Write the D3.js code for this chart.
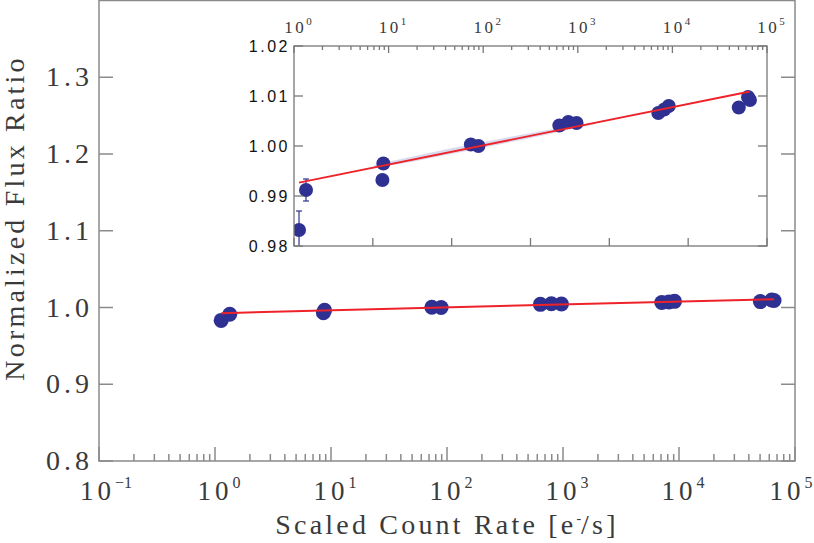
<!DOCTYPE html>
<html>
<head>
<meta charset="utf-8">
<script src="https://cdn.jsdelivr.net/npm/d3@7"></script>
<style>
  body { margin: 0; background: #fff; }
  svg { display: block; }
  .big { font-family: "Liberation Serif", serif; fill: #3a3a3a; }
  .small { font-family: "Liberation Sans", Arial, sans-serif; fill: #111; }
</style>
</head>
<body>
<svg id="chart" width="814" height="543"></svg>
<script>
// measured points (count rate, normalized flux ratio, error)
const rate  = [1.13, 1.34, 8.6, 8.8, 74, 89, 638, 794, 970, 7100, 8200, 9150, 50300, 63000, 66000];
const ratio = [0.9832, 0.9912, 0.9932, 0.9965, 1.0003, 1.0000, 1.0041, 1.0048, 1.0046, 1.0066, 1.0073, 1.0080, 1.0077, 1.0098, 1.0092];
const err   = [0.0038, 0.0022, 0, 0, 0, 0, 0, 0, 0, 0, 0, 0, 0, 0, 0];

// linear fit end points
const fitX = [1.13, 66000];
const fitY = [0.99267, 1.0109];

// faint fit uncertainty band (inset)
const bandX  = [7, 20, 60, 200, 600, 1500];
const bandLo = [0.9955, 0.9970, 0.9988, 1.0008, 1.0027, 1.0043];
const bandHi = [0.9962, 0.9981, 1.0000, 1.0019, 1.0035, 1.0047];

// tick labels
const xDecadesMain = [0.1, 1, 10, 100, 1000, 10000, 100000];
const xExpMain = ["\u22121", "0", "1", "2", "3", "4", "5"];
const yTicksMain = [0.8, 0.9, 1.0, 1.1, 1.2, 1.3];
const xDecadesInset = [1, 10, 100, 1000, 10000, 100000];
const xExpInset = ["0", "1", "2", "3", "4", "5"];
const yTicksInset = [0.98, 0.99, 1.00, 1.01, 1.02];

const svg = d3.select("#chart");
const blue = "#2e3192", red = "#ee2229";

// ---------- main panel ----------
const x = d3.scaleLog().domain([0.1, 1e5]).range([99, 795]);
const y = d3.scaleLinear().domain([0.8, 1.4]).range([461, 0.5]);

function minorTicks(lo, hi) {
  const out = [];
  for (let d = lo; d < hi; d *= 10)
    for (let k = 2; k <= 9; k++) out.push(d * k);
  return out;
}

const frame = svg.append("g").attr("stroke", "#8a8a8a").attr("stroke-width", 1.5).attr("fill", "none");
frame.append("rect").attr("x", x.range()[0]).attr("y", y.range()[1])
  .attr("width", x.range()[1] - x.range()[0]).attr("height", y.range()[0] - y.range()[1]);

// bottom ticks
frame.selectAll(".xmaj").data(xDecadesMain).enter().append("line")
  .attr("x1", d => x(d)).attr("x2", d => x(d)).attr("y1", 461).attr("y2", 447);
frame.selectAll(".xmin").data(minorTicks(0.1, 1e5)).enter().append("line")
  .attr("x1", d => x(d)).attr("x2", d => x(d)).attr("y1", 461).attr("y2", 454);
// left / right ticks
frame.selectAll(".yl").data(yTicksMain).enter().append("line")
  .attr("x1", 99).attr("x2", 113).attr("y1", d => y(d)).attr("y2", d => y(d));
frame.selectAll(".yr").data(yTicksMain).enter().append("line")
  .attr("x1", 795).attr("x2", 781).attr("y1", d => y(d)).attr("y2", d => y(d));

// y labels
svg.selectAll(".ylab").data(yTicksMain).enter().append("text")
  .attr("class", "big").attr("x", 93).attr("y", d => y(d) + 9)
  .attr("text-anchor", "end").attr("font-size", 28).attr("letter-spacing", 4)
  .text(d3.format(".1f"));

// x labels
const xl = svg.selectAll(".xlab").data(xDecadesMain).enter().append("text")
  .attr("class", "big").attr("x", (d, i) => x(d) + (i === 0 ? 7 : i === 6 ? -4 : 4)).attr("y", 500)
  .attr("text-anchor", "middle").attr("font-size", 27).attr("letter-spacing", 4);
xl.append("tspan").text("10");
xl.append("tspan").attr("dy", -12).attr("font-size", 16).attr("letter-spacing", 0)
  .text((d, i) => xExpMain[i]);

// axis titles
const xt = svg.append("text").attr("class", "big").attr("x", 447).attr("y", 534)
  .attr("text-anchor", "middle").attr("font-size", 28).attr("letter-spacing", 3.2)
  .attr("fill", "#555");
xt.append("tspan").text("Scaled Count Rate [e");
xt.append("tspan").attr("dy", -11).attr("font-size", 14).attr("letter-spacing", 0).text("-");
xt.append("tspan").attr("dy", 11).text("/s]");

svg.append("text").attr("class", "big")
  .attr("transform", "translate(24,218) rotate(-90)")
  .attr("text-anchor", "middle").attr("font-size", 28).attr("letter-spacing", 3.2)
  .text("Normalized Flux Ratio");

// main points + fit
svg.append("g").selectAll("circle").data(rate).enter().append("circle")
  .attr("cx", d => x(d)).attr("cy", (d, i) => y(ratio[i])).attr("r", 7.5).attr("fill", blue);
svg.append("path").datum(fitX)
  .attr("d", d3.line().x(d => x(d)).y((d, i) => y(fitY[i])))
  .attr("stroke", red).attr("stroke-width", 2).attr("fill", "none");

// ---------- inset ----------
const ix = d3.scaleLog().domain([1, 1e5]).range([294, 767]);
const iy = d3.scaleLinear().domain([0.98, 1.02]).range([246, 46]);
const ibot = d3.scaleLinear().domain([0, 6]).range(ix.range());

svg.append("defs").append("clipPath").attr("id", "iclip").append("rect")
  .attr("x", 294).attr("y", 46).attr("width", 473).attr("height", 200);

svg.append("rect").attr("x", 294).attr("y", 46).attr("width", 473).attr("height", 200)
  .attr("fill", "#fff");

const inset = svg.append("g").attr("clip-path", "url(#iclip)");
inset.append("path").datum(bandX)
  .attr("d", d3.area().x(d => ix(d)).y0((d, i) => iy(bandLo[i])).y1((d, i) => iy(bandHi[i])).curve(d3.curveBasis))
  .attr("fill", "#c9cbe6").attr("opacity", 0.7);

// error bars
const eb = inset.append("g").attr("stroke", blue).attr("stroke-width", 1.2);
rate.forEach((r, i) => {
  if (!err[i]) return;
  const cx = ix(r);
  eb.append("line").attr("x1", cx).attr("x2", cx).attr("y1", iy(ratio[i] - err[i])).attr("y2", iy(ratio[i] + err[i]));
  eb.append("line").attr("x1", cx - 3).attr("x2", cx + 3).attr("y1", iy(ratio[i] + err[i])).attr("y2", iy(ratio[i] + err[i]));
  eb.append("line").attr("x1", cx - 3).attr("x2", cx + 3).attr("y1", iy(ratio[i] - err[i])).attr("y2", iy(ratio[i] - err[i]));
});

inset.selectAll("circle").data(rate).enter().append("circle")
  .attr("cx", d => ix(d)).attr("cy", (d, i) => iy(ratio[i])).attr("r", 7).attr("fill", blue);
inset.append("path").datum(fitX)
  .attr("d", d3.line().x(d => ix(d)).y((d, i) => iy(fitY[i])))
  .attr("stroke", red).attr("stroke-width", 1.8).attr("fill", "none");

const iframe = svg.append("g").attr("stroke", "#777").attr("stroke-width", 1.3).attr("fill", "none");
iframe.append("rect").attr("x", 294).attr("y", 46).attr("width", 473).attr("height", 200);
iframe.selectAll(".tmaj").data(xDecadesInset).enter().append("line")
  .attr("x1", d => ix(d)).attr("x2", d => ix(d)).attr("y1", 46).attr("y2", 53);
iframe.selectAll(".tmin").data(minorTicks(1, 1e5)).enter().append("line")
  .attr("x1", d => ix(d)).attr("x2", d => ix(d)).attr("y1", 46).attr("y2", 50);
iframe.selectAll(".bt").data(ibot.ticks(6)).enter().append("line")
  .attr("x1", d => ibot(d)).attr("x2", d => ibot(d)).attr("y1", 246).attr("y2", 238);
iframe.selectAll(".il").data(yTicksInset).enter().append("line")
  .attr("x1", 294).attr("x2", 303).attr("y1", d => iy(d)).attr("y2", d => iy(d));
iframe.selectAll(".ir").data(yTicksInset).enter().append("line")
  .attr("x1", 767).attr("x2", 758).attr("y1", d => iy(d)).attr("y2", d => iy(d));

svg.selectAll(".iyl").data(yTicksInset).enter().append("text")
  .attr("class", "small").attr("x", 290).attr("y", d => iy(d) + 6)
  .attr("text-anchor", "end").attr("font-size", 16).attr("letter-spacing", 2.5)
  .text(d3.format(".2f"));

const itl = svg.selectAll(".ixl").data(xDecadesInset).enter().append("text")
  .attr("class", "big").attr("x", d => ix(d) + 4).attr("y", 33)
  .attr("text-anchor", "middle").attr("font-size", 17).attr("letter-spacing", 2.5);
itl.append("tspan").text("10");
itl.append("tspan").attr("dy", -8).attr("font-size", 11).attr("letter-spacing", 0)
  .text((d, i) => xExpInset[i]);
</script>
</body>
</html>
